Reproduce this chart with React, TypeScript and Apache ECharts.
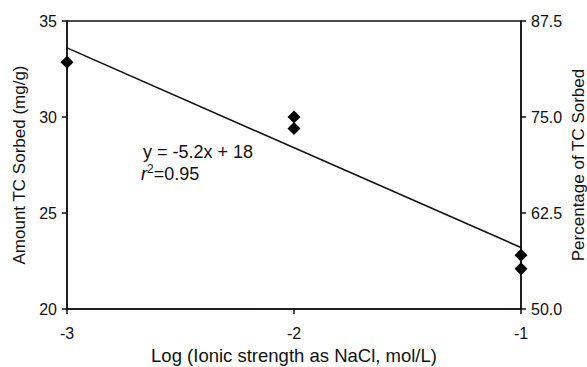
import React, { useEffect, useRef } from "react";
import * as echarts from "echarts";

// Log of ionic strength (NaCl, mol/L) for each measurement
const logIonicStrength = [-3, -2, -2, -1, -1];
// Amount of tetracycline sorbed (mg/g)
const amountSorbed = [32.85, 30.0, 29.4, 22.8, 22.1];

// Linear fit: y = slope * x + intercept
const fitSlope = -5.2;
const fitIntercept = 18;
const fitR2 = 0.95;
const fitXRange = [-3, -1];

// Axis ranges and ticks
const xTicks = { min: -3, max: -1, interval: 1 };
const leftTicks = { min: 20, max: 35, interval: 5 };
const rightTicks = { min: 50, max: 87.5, interval: 12.5 };

const FONT = "'Liberation Sans', Arial, sans-serif";
const INK = "#111";

export default function App() {
  const ref = useRef<HTMLDivElement>(null);

  useEffect(() => {
    if (!ref.current) return;
    const chart = echarts.init(ref.current, null, { renderer: "svg" });

    const scatterData = logIonicStrength.map((x, i) => [x, amountSorbed[i]]);
    const fitData = fitXRange.map((x) => [x, +(fitSlope * x + fitIntercept).toFixed(3)]);

    const axisLine = { show: true, lineStyle: { color: INK, width: 1.5 } };
    const axisTick = { show: true, inside: false, length: 5, lineStyle: { color: INK, width: 1.5 } };

    chart.setOption({
      animation: false,
      backgroundColor: "#fff",
      textStyle: { fontFamily: FONT },
      grid: {
        left: 67,
        right: 66,
        top: 21,
        bottom: 58,
        containLabel: false,
        outerBoundsMode: "none",
        show: true,
        borderColor: INK,
        borderWidth: 1.5,
        backgroundColor: "transparent",
      },
      xAxis: {
        type: "value",
        min: xTicks.min,
        max: xTicks.max,
        interval: xTicks.interval,
        axisLine,
        axisTick,
        splitLine: { show: false },
        axisLabel: { color: INK, fontSize: 16, fontFamily: FONT, margin: 16 },
        name: "Log (Ionic strength as NaCl, mol/L)",
        nameLocation: "middle",
        nameGap: 37,
        nameTextStyle: { color: INK, fontSize: 18.5, fontFamily: FONT },
      },
      yAxis: [
        {
          type: "value",
          position: "left",
          min: leftTicks.min,
          max: leftTicks.max,
          interval: leftTicks.interval,
          axisLine,
          axisTick,
          splitLine: { show: false },
          axisLabel: { color: INK, fontSize: 16, fontFamily: FONT, margin: 10 },
          name: "Amount TC Sorbed (mg/g)",
          nameLocation: "middle",
          nameRotate: 90,
          nameGap: 35,
          nameTextStyle: { color: INK, fontSize: 17, fontFamily: FONT },
        },
        {
          type: "value",
          position: "right",
          min: rightTicks.min,
          max: rightTicks.max,
          interval: rightTicks.interval,
          axisLine,
          axisTick,
          splitLine: { show: false },
          axisLabel: {
            color: INK,
            fontSize: 16,
            fontFamily: FONT,
            margin: 10,
            formatter: (v: number) => v.toFixed(1),
          },
          name: "Percentage of TC Sorbed",
          nameLocation: "middle",
          nameRotate: 90,
          nameGap: 57,
          nameMoveOverlap: false,
          nameTextStyle: { color: INK, fontSize: 17, fontFamily: FONT, verticalAlign: "middle" },
        },
      ],
      series: [
        {
          type: "line",
          data: fitData,
          yAxisIndex: 0,
          showSymbol: false,
          symbol: "none",
          lineStyle: { color: INK, width: 1.6 },
          z: 2,
        },
        {
          type: "scatter",
          data: scatterData,
          yAxisIndex: 0,
          symbol: "diamond",
          symbolSize: 13,
          itemStyle: { color: "#000", opacity: 1 },
          z: 3,
        },
      ],
      graphic: [
        {
          type: "text",
          left: 143,
          top: 143,
          style: {
            text: `y = ${fitSlope}x + ${fitIntercept}`,
            fontSize: 18,
            fontFamily: FONT,
            fill: INK,
          },
        },
        {
          type: "text",
          left: 141,
          top: 163,
          style: {
            text: `{r|r}{sup|2}{n|=${fitR2.toFixed(2)}}`,
            fontFamily: FONT,
            fill: INK,
            rich: {
              r: { fontSize: 18, fontStyle: "italic", fontFamily: FONT, fill: INK, verticalAlign: "bottom" },
              sup: { fontSize: 12, fontFamily: FONT, fill: INK, verticalAlign: "top", padding: [0, 0, 8, 0] },
              n: { fontSize: 18, fontFamily: FONT, fill: INK, verticalAlign: "bottom" },
            },
          },
        },
      ],
    });

    return () => chart.dispose();
  }, []);

  return (
    <div
      ref={ref}
      style={{ width: 587, height: 367, position: "absolute", left: 0, top: 0 }}
    />
  );
}
